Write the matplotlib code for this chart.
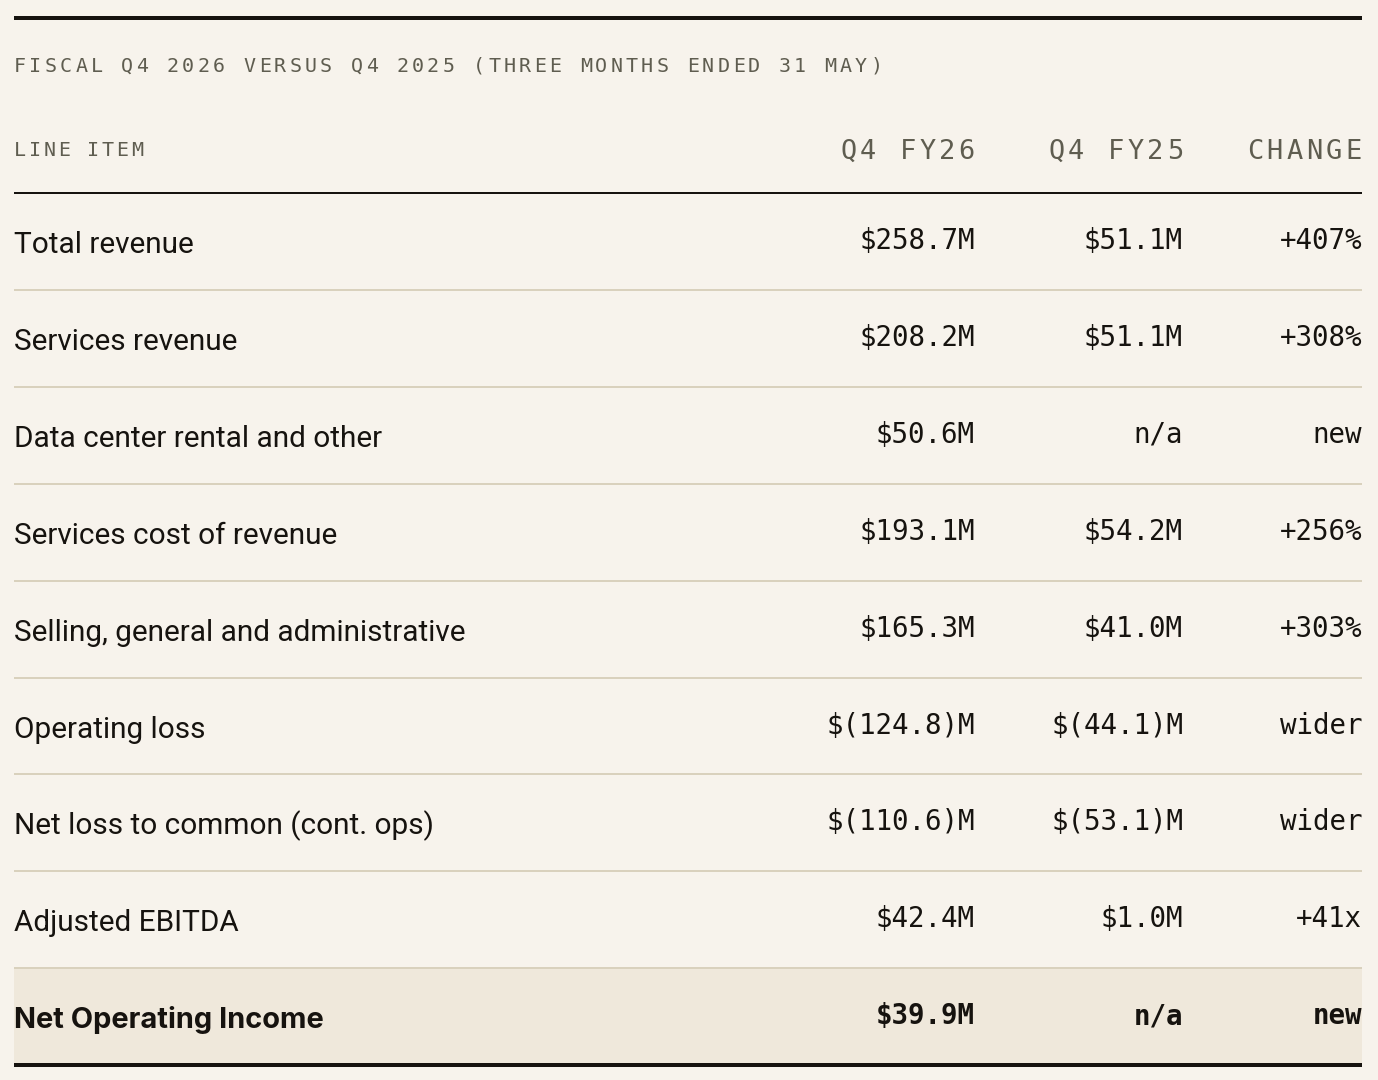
import matplotlib
matplotlib.use("Agg")
import matplotlib.pyplot as plt
from matplotlib.patches import Rectangle

# table content
title = "FISCAL Q4 2026 VERSUS Q4 2025 (THREE MONTHS ENDED 31 MAY)"
col_headers = ["LINE ITEM", "Q4 FY26", "Q4 FY25", "CHANGE"]
line_items = [
    "Total revenue",
    "Services revenue",
    "Data center rental and other",
    "Services cost of revenue",
    "Selling, general and administrative",
    "Operating loss",
    "Net loss to common (cont. ops)",
    "Adjusted EBITDA",
    "Net Operating Income",
]
q4_fy26 = ["$258.7M", "$208.2M", "$50.6M", "$193.1M", "$165.3M",
           "$(124.8)M", "$(110.6)M", "$42.4M", "$39.9M"]
q4_fy25 = ["$51.1M", "$51.1M", "n/a", "$54.2M", "$41.0M",
           "$(44.1)M", "$(53.1)M", "$1.0M", "n/a"]
change = ["+407%", "+308%", "new", "+256%", "+303%",
          "wider", "wider", "+41x", "new"]
highlight_row = 8

BG = "#f7f3ec"
INK = "#16130f"
GREY = "#5f5d50"
RULE = "#d9d1bd"
HL = "#efe8db"
MONO = "DejaVu Sans Mono"
SANS = "Roboto"

W, H = 1378, 1080
fig = plt.figure(figsize=(W / 100, H / 100), dpi=100, facecolor=BG)
ax = fig.add_axes([0, 0, 1, 1])
ax.set_xlim(0, W)
ax.set_ylim(H, 0)
ax.axis("off")
ax.set_facecolor(BG)

def px2pt(px):
    return px * 72 / 100

def spaced(x, y, s, size_px, gap, ha="left", color=GREY):
    # monospace text with extra letter spacing, one glyph at a time
    adv = 0.602 * size_px
    stride = adv + gap
    total = len(s) * stride - gap
    x0 = x if ha == "left" else x - total
    for i, ch in enumerate(s):
        ax.text(x0 + i * stride + adv / 2, y, ch, ha="center", va="baseline",
                family=MONO, fontsize=px2pt(size_px), color=color)

left, right = 14, 1362
col_x = [975, 1183, 1362]

# top rule and title
ax.plot([left, right], [18, 18], color=INK, lw=px2pt(4), solid_capstyle="butt")
spaced(left, 72, title, 20, 3.25)

# header
spaced(left, 156, col_headers[0], 20, 2.6)
for x, h in zip(col_x, col_headers[1:]):
    spaced(x, 159, h, 27, 3.5, ha="right")
ax.plot([left, right], [193, 193], color=INK, lw=px2pt(2), solid_capstyle="butt")

# rows
top0, pitch = 193, 96.9
for i, item in enumerate(line_items):
    top = top0 + i * pitch
    bold = i == highlight_row
    if bold:
        ax.add_patch(Rectangle((left, top + 1), right - left, pitch - 2,
                               facecolor=HL, edgecolor="none", zorder=0))
        ax.text(left, top + 60, item, ha="left", va="baseline", family="Inter",
                fontsize=px2pt(29), color=INK, fontweight="bold")
    else:
        ax.text(left, top + 60, item, ha="left", va="baseline", family=SANS,
                fontsize=px2pt(29.7), color=INK)
    if 0 < i:
        ax.plot([left, right], [top, top], color=RULE, lw=px2pt(2),
                solid_capstyle="butt", zorder=1)
    for x, vals in zip(col_x, [q4_fy26, q4_fy25, change]):
        ax.text(x, top + 56, vals[i], ha="right", va="baseline", family=MONO,
                fontsize=px2pt(27.5), color=INK, fontweight="bold" if bold else "normal")

bottom = top0 + len(line_items) * pitch
ax.plot([left, right], [bottom, bottom], color=INK, lw=px2pt(4),
        solid_capstyle="butt", zorder=2)

fig.savefig("out.png", dpi=100, facecolor=BG)
